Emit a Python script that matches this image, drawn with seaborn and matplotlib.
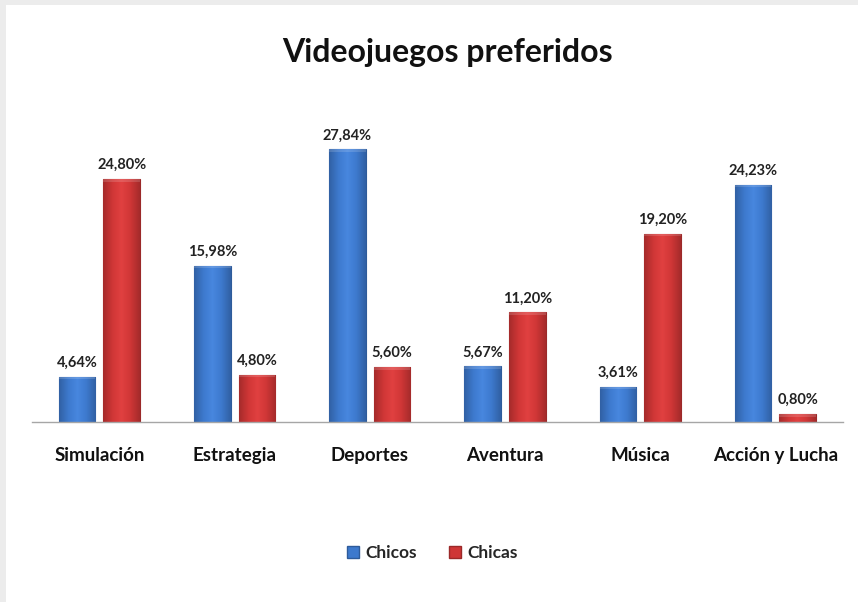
import numpy as np
import pandas as pd
import matplotlib
matplotlib.use("Agg")
import matplotlib.pyplot as plt
import seaborn as sns
from matplotlib.colors import LinearSegmentedColormap, to_rgb
from matplotlib.patches import Rectangle

# --- data ---------------------------------------------------------------
categorias = ["Simulación", "Estrategia", "Deportes", "Aventura", "Música", "Acción y Lucha"]
chicos = [4.64, 15.98, 27.84, 5.67, 3.61, 24.23]
chicas = [24.80, 4.80, 5.60, 11.20, 19.20, 0.80]
series = ["Chicos", "Chicas"]
titulo = "Videojuegos preferidos"

df = pd.DataFrame({
    "categoria": categorias * 2,
    "grupo": [series[0]] * len(categorias) + [series[1]] * len(categorias),
    "valor": chicos + chicas,
})

azul = "#3d79cd"
rojo = "#cf3636"
paleta = {"Chicos": azul, "Chicas": rojo}

sns.set_theme(style="white")
plt.rcParams["font.family"] = ["Lato", "DejaVu Sans"]

fig = plt.figure(figsize=(8.58, 6.02), dpi=100)
fig.patch.set_facecolor("white")
ax = fig.add_axes([0.037, 0.299, 0.9455, 0.488])

sns.barplot(data=df, x="categoria", y="valor", hue="grupo", order=categorias,
            hue_order=series, palette=paleta, width=0.66, gap=0.18,
            saturation=1, errorbar=None, ax=ax, legend=False, zorder=2)

ax.set_ylim(0, 30)
ax.set_xlim(-0.5, len(categorias) - 0.5)


def sombrear(color):
    base = np.array(to_rgb(color))
    oscuro = base * 0.8
    claro = np.clip(base * 1.05 + 0.03, 0, 1)
    return LinearSegmentedColormap.from_list("g", [oscuro, base, claro, base, oscuro])


# shaded fill + value labels for each bar
for cont, nombre in zip(ax.containers, series):
    cmap = sombrear(paleta[nombre])
    grad = np.linspace(0, 1, 64).reshape(1, -1)
    for barra in cont:
        x0, y0 = barra.get_x(), barra.get_y()
        w, h = barra.get_width(), barra.get_height()
        barra.set_edgecolor(np.array(to_rgb(paleta[nombre])) * 0.75)
        barra.set_linewidth(0.8)
        im = ax.imshow(grad, extent=[x0, x0 + w, y0, y0 + h], aspect="auto",
                       cmap=cmap, zorder=2.5, interpolation="bilinear")
        im.set_clip_path(barra)
        ax.add_patch(Rectangle((x0, y0 + h - 0.25), w, 0.25, facecolor="white",
                               alpha=0.15, edgecolor="none", zorder=2.6))
        ax.annotate(f"{h:.2f}".replace(".", ",") + "%", (x0 + w / 2, y0 + h),
                    xytext=(0, 5), textcoords="offset points", ha="center",
                    va="bottom", fontsize=10.5, fontweight="bold", color="#222222")
ax.set_aspect("auto")

ax.set_xlabel("")
ax.set_ylabel("")
ax.set_yticks([])
ax.tick_params(axis="x", length=0, pad=18, labelsize=13.5, labelcolor="#111111")
for lbl in ax.get_xticklabels():
    lbl.set_fontweight("bold")
for lado in ["top", "right", "left"]:
    ax.spines[lado].set_visible(False)
ax.spines["bottom"].set_color("#a6a6a6")
ax.spines["bottom"].set_linewidth(1.0)
ax.spines["bottom"].set_zorder(3)

fig.text(0.522, 0.912, titulo, ha="center", va="center", fontsize=23,
         fontweight="bold", color="#111111")

handles = [Rectangle((0, 0), 1, 1, facecolor=paleta[s],
                     edgecolor=np.array(to_rgb(paleta[s])) * 0.75) for s in series]
fig.legend(handles, series, loc="center", bbox_to_anchor=(0.504, 0.081), ncol=2,
           frameon=False, handlelength=0.7, handleheight=0.7, handletextpad=0.4,
           columnspacing=1.8, prop={"weight": "bold", "size": 12.5})

# thin grey frame on the left and top edges of the canvas
fig.patches.append(Rectangle((0, 0), 0.007, 1, transform=fig.transFigure,
                             facecolor="#ececec", edgecolor="none", zorder=0))
fig.patches.append(Rectangle((0, 0.992), 1, 0.008, transform=fig.transFigure,
                             facecolor="#ececec", edgecolor="none", zorder=0))

fig.savefig("out.png", dpi=100, facecolor="white")
